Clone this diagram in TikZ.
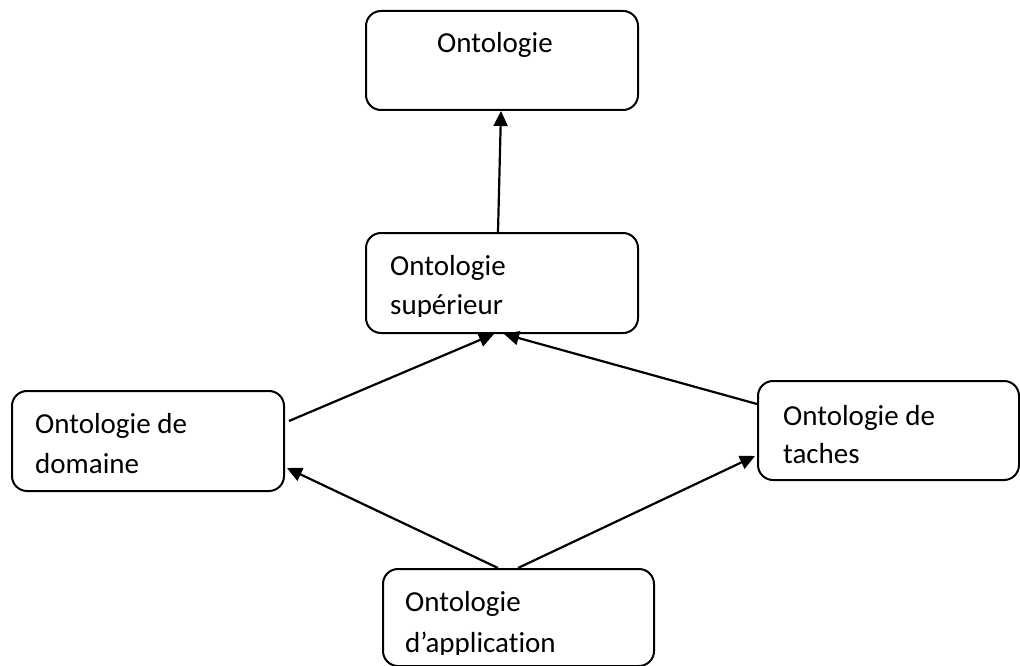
\documentclass[tikz,border=0pt]{standalone}
\usepackage{fontspec}
\setmainfont[Ligatures={NoCommon}]{Carlito}
\usetikzlibrary{arrows.meta}
\begin{document}
\begin{tikzpicture}[x=1pt,y=-1pt,
  box/.style={draw=black,line width=2pt,rounded corners=15pt,inner sep=0pt,anchor=north west},
  lbl/.style={anchor=base west,inner sep=0pt,font=\fontsize{29}{40}\selectfont},
  arr/.style={draw=black,line width=2.2pt,-{Triangle[length=15pt,width=14pt]}}]
\useasboundingbox (0,0) rectangle (1020,666);

% boxes
\node[box,minimum width=272pt,minimum height=99pt] (top)  at (365,10)  {};
\node[box,minimum width=272pt,minimum height=100pt] (sup) at (365,232) {};
\node[box,minimum width=272pt,minimum height=100pt] (dom) at (11,390)  {};
\node[box,minimum width=261pt,minimum height=99pt] (task) at (757,380) {};
\node[box,minimum width=271pt,minimum height=97pt] (app)  at (382,568) {};

% labels
\node[lbl] (tTop) at (437,53) {Ontologie};
\begin{scope}
  \clip (365,232) rectangle (637,316);
  \node[lbl] (tSupA) at (390,275) {Ontologie};
  \node[lbl] (tSupB) at (390,314) {supérieur};
\end{scope}
\node[lbl] (tDomA) at (35,433) {Ontologie de};
\node[lbl] (tDomB) at (35,473) {domaine};
\node[lbl] (tTaskA) at (783,425) {Ontologie de};
\node[lbl] (tTaskB) at (783,463) {taches};
\begin{scope}
  \clip (382,568) rectangle (653,654);
  \node[lbl] (tAppA) at (405,611) {Ontologie};
  \node[lbl] (tAppB) at (405,652) {d’application};
\end{scope}

% connectors
\draw[arr] ([xshift=-4pt]sup.north) -- ([xshift=-1pt]top.south);
\draw[arr] ([xshift=4pt,yshift=20pt]dom.east) -- ([xshift=-8pt]sup.south);
\draw[arr] ([yshift=26.5pt]task.west) -- ([xshift=2pt]sup.south);
\draw[arr] ([xshift=-20.5pt]app.north) -- ([xshift=2pt,yshift=-27pt]dom.east);
\draw[arr] ([xshift=-0.5pt]app.north) -- ([xshift=-2pt,yshift=-25.5pt]task.west);
\end{tikzpicture}
\end{document}
